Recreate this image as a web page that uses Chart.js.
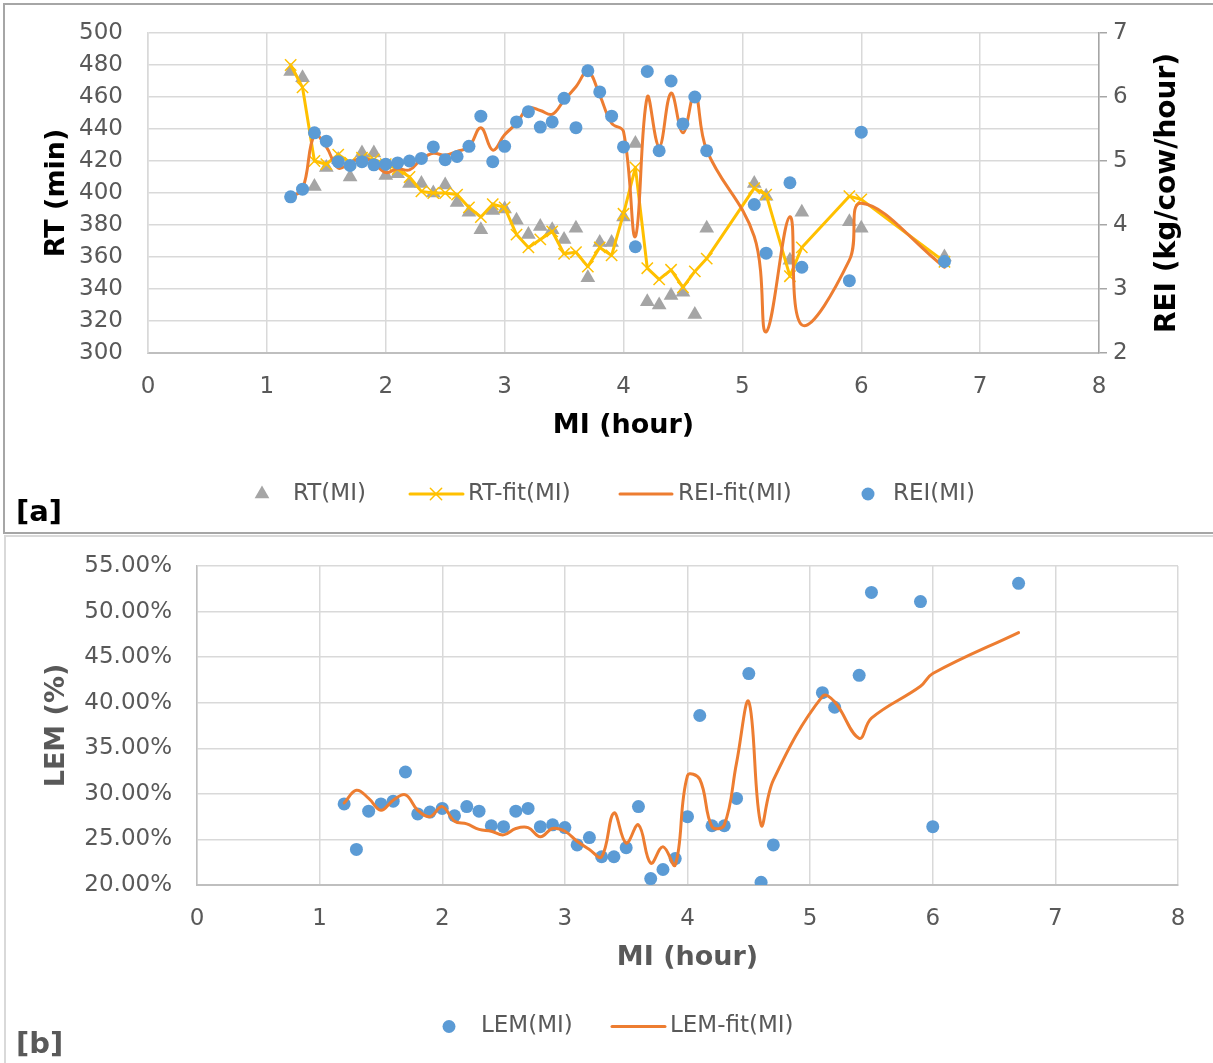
<!DOCTYPE html>
<html>
<head>
<meta charset="utf-8">
<title>RT, REI and LEM versus MI</title>
<script src="https://cdn.jsdelivr.net/npm/chart.js@4.4.1/dist/chart.umd.min.js"></script>
<style>
  html, body { margin: 0; padding: 0; background: #fff; width: 1213px; height: 1063px; overflow: hidden; }
  .frame { position: absolute; box-sizing: border-box; }
  #frameA { left: 3px; top: 3px; width: 1230px; height: 531px; border: 2px solid #a6a6a6; }
  #frameB { left: 4px; top: 535px; width: 1230px; height: 540px; border: 2px solid #d9d9d9; }
  canvas { position: absolute; left: 0; }
</style>
</head>
<body>
<div class="frame" id="frameA"></div>
<div class="frame" id="frameB"></div>
<canvas id="chartA" width="1213" height="535" style="top:0"></canvas>
<canvas id="chartB" width="1213" height="528" style="top:535px"></canvas>
<script>
// Milking interval (hour) shared by every series
const MI = [1.2, 1.3, 1.4, 1.5, 1.6, 1.7, 1.8, 1.9, 2.0, 2.1, 2.2, 2.3, 2.4, 2.5, 2.6, 2.7, 2.8, 2.9, 3.0,
            3.1, 3.2, 3.3, 3.4, 3.5, 3.6, 3.7, 3.8, 3.9, 4.0, 4.1, 4.2, 4.3, 4.4, 4.5, 4.6, 4.7,
            5.1, 5.2, 5.4, 5.5, 5.9, 6.0, 6.7];

// Rumination time (min)
const RT = [476, 472, 404, 416, 421, 410, 425, 425, 411, 412, 406, 406, 400, 405, 394, 388, 377, 389, 390,
            383, 374, 379, 377, 371, 378, 347, 369, 369, 385, 431, 332, 330, 336, 338, 324, 378,
            406, 398, 358, 388, 382, 378, 360];
const RT_FIT = [480, 466, 420, 418, 424, 419, 422, 421, 418, 415, 410, 401, 400, 400, 399, 391, 385, 393, 391,
                374, 366, 371, 376, 362, 363, 354, 366, 361, 387, 416, 353, 346, 352, 341, 351, 359,
                403, 399, 348, 366, 398, 396, 357];

// Rumination efficiency index (kg/cow/hour)
const REI = [4.44, 4.56, 5.44, 5.31, 4.99, 4.93, 4.99, 4.94, 4.95, 4.97, 5.00, 5.04, 5.22, 5.02, 5.07, 5.23, 5.70, 4.99, 5.23,
             5.61, 5.77, 5.53, 5.61, 5.98, 5.52, 6.41, 6.08, 5.70, 5.22, 3.66, 6.40, 5.16, 6.25, 5.58, 6.00, 5.16,
             4.32, 3.56, 4.66, 3.34, 3.13, 5.45, 3.43];
const REI_FIT = [4.44, 4.56, 5.41, 5.22, 4.89, 4.97, 5.05, 4.97, 4.82, 4.88, 4.86, 5.03, 5.12, 5.09, 5.15, 5.22, 5.52, 5.17, 5.41,
                 5.59, 5.83, 5.79, 5.73, 5.95, 6.16, 6.40, 6.03, 5.59, 5.46, 3.82, 6.00, 5.22, 6.06, 5.44, 6.06, 5.17,
                 3.82, 2.33, 4.13, 2.44, 3.45, 4.34, 3.34];

// Lying efficiency (%)
const LEM = [28.9, 23.9, 28.1, 28.9, 29.2, 32.4, 27.8, 28.0, 28.4, 27.6, 28.6, 28.1, 26.5, 26.4, 28.1, 28.4, 26.4, 26.6, 26.3,
             24.4, 25.2, 23.1, 23.1, 24.1, 28.6, 20.7, 21.7, 22.9, 27.5, 38.6, 26.5, 26.5, 29.5, 43.2, 20.3, 24.4,
             41.1, 39.5, 43.0, 52.1, 51.1, 26.4, 53.1];
const LEM_FIT = [29.0, 30.4, 29.5, 28.2, 29.3, 29.9, 28.2, 27.5, 28.6, 27.0, 26.7, 26.1, 25.9, 25.5, 26.2, 26.3, 25.3, 26.2, 25.9,
                 24.8, 23.9, 23.1, 27.9, 24.6, 26.6, 22.4, 24.2, 22.2, 32.0, 31.6, 26.4, 26.6, 33.4, 40.1, 26.6, 31.5,
                 40.7, 40.1, 36.1, 38.3, 41.8, 43.2, 47.7];

// Axis ranges: [min, max, step]
const X_RANGE = [0, 8, 1];
const RT_RANGE = [300, 500, 20];
const REI_RANGE = [2, 7, 1];
const LEM_RANGE = [20, 55, 5];

const FONT = "'DejaVu Sans', Verdana, sans-serif";
Chart.defaults.font.family = FONT;
Chart.defaults.color = '#595959';

const GRID = '#d9d9d9';
const AXIS = '#bfbfbf';
const TICK_FONT = { size: 23 };
const TITLE_FONT = { size: 27, weight: 'bold', lineHeight: 1.2 };

const pts = (xs, ys) => xs.map((x, i) => ({ x, y: ys[i] }));

// Draws one legend symbol with the dataset's own point style
function drawMarker(ctx, ds, x, y) {
  const r = ds.pointRadius;
  ctx.beginPath();
  if (ds.pointStyle === 'triangle') {
    for (let k = 0; k < 3; k++) {
      const a = k * 2 * Math.PI / 3;
      const px = x + Math.sin(a) * r, py = y - Math.cos(a) * r;
      if (k) ctx.lineTo(px, py); else ctx.moveTo(px, py);
    }
    ctx.closePath();
    ctx.fillStyle = ds.pointBackgroundColor;
    ctx.fill();
  } else if (ds.pointStyle === 'crossRot') {
    const d = r * Math.SQRT1_2;
    ctx.moveTo(x - d, y - d); ctx.lineTo(x + d, y + d);
    ctx.moveTo(x - d, y + d); ctx.lineTo(x + d, y - d);
    ctx.strokeStyle = ds.pointBorderColor;
    ctx.lineWidth = ds.pointBorderWidth;
    ctx.stroke();
  } else {
    ctx.arc(x, y, r, 0, Math.PI * 2);
    ctx.fillStyle = ds.pointBackgroundColor;
    ctx.fill();
  }
}

// Legend rows, panel tags and the rotated secondary-axis title
const decor = {
  id: 'decor',
  afterDraw(chart, _args, o) {
    const ctx = chart.ctx;
    ctx.save();
    ctx.textBaseline = 'middle';
    for (const t of o.texts || []) {
      ctx.save();
      ctx.translate(t.x, t.y);
      if (t.rotate) ctx.rotate(t.rotate);
      ctx.font = t.font;
      ctx.fillStyle = t.color;
      ctx.textAlign = t.align || 'left';
      ctx.fillText(t.text, 0, 0);
      ctx.restore();
    }
    const y = o.legendY;
    for (const it of o.legend || []) {
      const ds = chart.data.datasets[it.dataset];
      if (it.line) {
        ctx.strokeStyle = ds.borderColor;
        ctx.lineWidth = ds.borderWidth;
        ctx.lineCap = 'round';
        ctx.beginPath();
        ctx.moveTo(it.line[0], y);
        ctx.lineTo(it.line[1], y);
        ctx.stroke();
      }
      if (it.marker != null) drawMarker(ctx, ds, it.marker, y);
      ctx.font = '23px ' + FONT;
      ctx.fillStyle = '#595959';
      ctx.textAlign = 'left';
      ctx.fillText(ds.label, it.text, y);
    }
    ctx.restore();
  }
};

function xScale(titleColor) {
  return {
    type: 'linear', min: X_RANGE[0], max: X_RANGE[1],
    ticks: { stepSize: X_RANGE[2], font: TICK_FONT, padding: 20 },
    grid: { color: GRID, lineWidth: 1.5, drawTicks: false },
    border: { color: AXIS, width: 2 },
    title: { display: true, text: 'MI (hour)', color: titleColor, font: TITLE_FONT, padding: { top: 0, bottom: 11 } },
    afterFit: s => { s.height = 100; }
  };
}

// Left value axis: an invisible 25px tick keeps the labels clear of the plot edge
function leftScale(range, title, titleColor, borderColor, width, fmt) {
  const ticks = { stepSize: range[2], font: TICK_FONT, padding: 0 };
  if (fmt) ticks.callback = fmt;
  return {
    position: 'left', min: range[0], max: range[1], ticks,
    grid: { color: GRID, lineWidth: 1.5, drawTicks: true, tickLength: 25, tickColor: 'rgba(0,0,0,0)' },
    border: { color: borderColor, width: 1.5 },
    title: { display: true, text: title, color: titleColor, font: TITLE_FONT, padding: { top: 41, bottom: 0 } },
    afterFit: s => { s.width = width; }
  };
}

new Chart(document.getElementById('chartA'), {
  type: 'scatter',
  data: {
    datasets: [
      { label: 'RT(MI)', data: pts(MI, RT), yAxisID: 'y', order: 4,
        pointStyle: 'triangle', pointRadius: 8.5, pointHoverRadius: 8.5,
        pointBackgroundColor: '#a5a5a5', pointBorderWidth: 0 },
      { label: 'RT-fit(MI)', data: pts(MI, RT_FIT), yAxisID: 'y', order: 3,
        showLine: true, borderColor: '#ffc000', borderWidth: 3, tension: 0,
        borderJoinStyle: 'round', borderCapStyle: 'round',
        pointStyle: 'crossRot', pointRadius: 8, pointHoverRadius: 8,
        pointBorderColor: '#ffc000', pointBackgroundColor: '#ffc000', pointBorderWidth: 1.5 },
      { label: 'REI-fit(MI)', data: pts(MI, REI_FIT), yAxisID: 'y2', order: 2,
        showLine: true, borderColor: '#ed7d31', borderWidth: 3, tension: 0.4,
        borderJoinStyle: 'round', borderCapStyle: 'round', pointRadius: 0, pointHoverRadius: 0 },
      { label: 'REI(MI)', data: pts(MI, REI), yAxisID: 'y2', order: 1,
        pointStyle: 'circle', pointRadius: 6.5, pointHoverRadius: 6.5,
        pointBackgroundColor: '#5b9bd5', pointBorderWidth: 0 }
    ]
  },
  options: {
    responsive: false, animation: false, devicePixelRatio: 1,
    layout: { padding: { top: 33, left: 0, right: 0, bottom: 82 } },
    plugins: {
      legend: { display: false }, tooltip: { enabled: false },
      decor: {
        legendY: 494,
        legend: [
          { dataset: 0, marker: 262, text: 293 },
          { dataset: 1, line: [410, 463], marker: 436, text: 468 },
          { dataset: 2, line: [620, 672], text: 678 },
          { dataset: 3, marker: 868, text: 893 }
        ],
        texts: [
          { text: 'REI (kg/cow/hour)', x: 1168, y: 193, rotate: -Math.PI / 2, align: 'center',
            font: 'bold 28px ' + FONT, color: '#000' },
          { text: '[a]', x: 16, y: 513, font: 'bold 29px ' + FONT, color: '#000' }
        ]
      }
    },
    scales: {
      x: xScale('#000'),
      y: leftScale(RT_RANGE, 'RT (min)', '#000', GRID, 148),
      y2: {
        position: 'right', min: REI_RANGE[0], max: REI_RANGE[1],
        ticks: { stepSize: REI_RANGE[2], font: TICK_FONT, padding: 6 },
        grid: { drawOnChartArea: false, drawTicks: true, tickLength: 8, color: '#a6a6a6', lineWidth: 1.5 },
        border: { color: '#a6a6a6', width: 1.5 },
        afterFit: s => { s.width = 114; }
      }
    }
  },
  plugins: [decor]
});

new Chart(document.getElementById('chartB'), {
  type: 'scatter',
  data: {
    datasets: [
      { label: 'LEM(MI)', data: pts(MI, LEM), order: 2,
        pointStyle: 'circle', pointRadius: 6.5, pointHoverRadius: 6.5,
        pointBackgroundColor: '#5b9bd5', pointBorderWidth: 0 },
      { label: 'LEM-fit(MI)', data: pts(MI, LEM_FIT), order: 1,
        showLine: true, borderColor: '#ed7d31', borderWidth: 3, tension: 0.4,
        borderJoinStyle: 'round', borderCapStyle: 'round', pointRadius: 0, pointHoverRadius: 0 }
    ]
  },
  options: {
    responsive: false, animation: false, devicePixelRatio: 1,
    layout: { padding: { top: 31, left: 0, right: 35, bottom: 78 } },
    plugins: {
      legend: { display: false }, tooltip: { enabled: false },
      decor: {
        legendY: 491.5,
        legend: [
          { dataset: 0, marker: 449, text: 481 },
          { dataset: 1, line: [612, 665], text: 670 }
        ],
        texts: [
          { text: '[b]', x: 16, y: 510, font: 'bold 29px ' + FONT, color: '#595959' }
        ]
      }
    },
    scales: {
      x: xScale('#595959'),
      y: leftScale(LEM_RANGE, 'LEM (%)', '#595959', AXIS, 197, v => v.toFixed(2) + '%')
    }
  },
  plugins: [decor]
});
</script>
</body>
</html>
